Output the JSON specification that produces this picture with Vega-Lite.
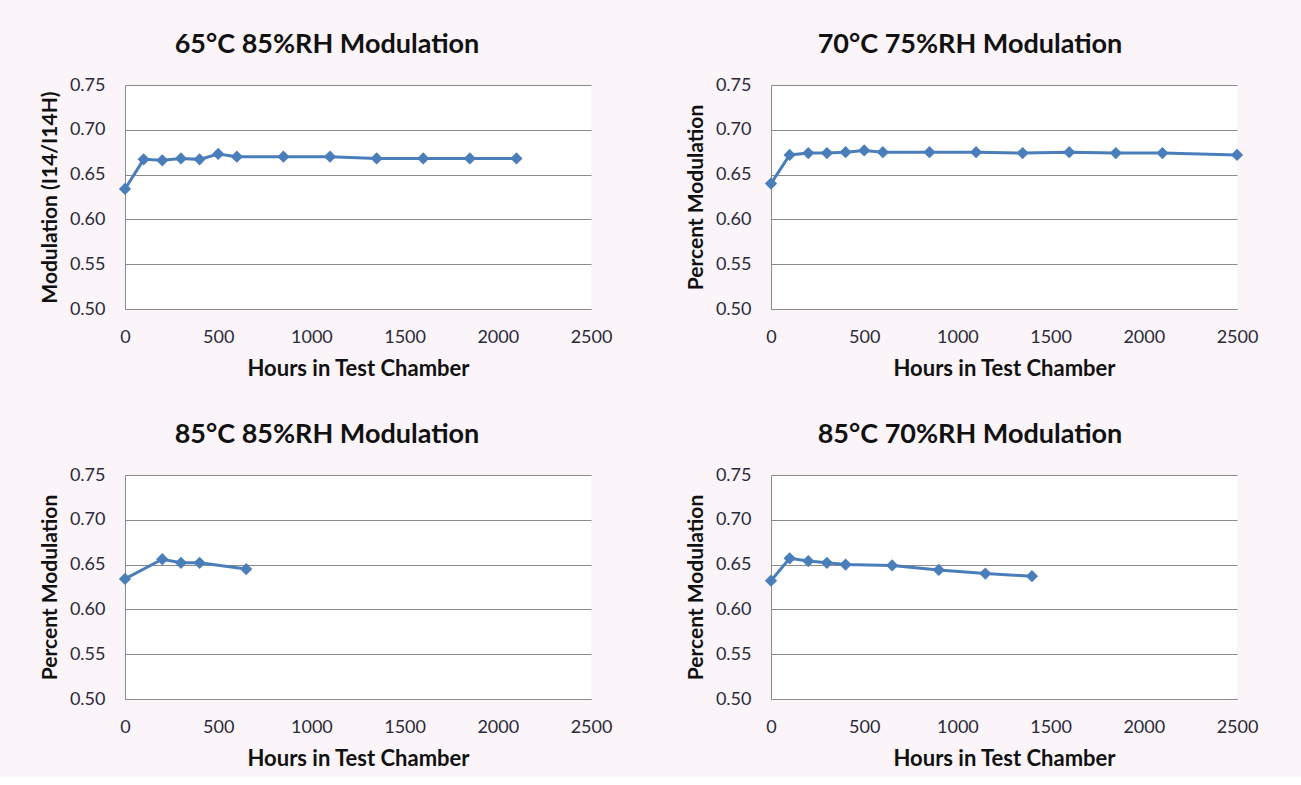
{
  "$schema": "https://vega.github.io/schema/vega-lite/v6.json",
  "background": "#fbf4f9",
  "padding": {"left": 39, "top": 31, "right": 48, "bottom": 8},
  "datasets": {
    "pts": [
      {"panel": "A", "hours": 0, "mod": 0.634},
      {"panel": "A", "hours": 100, "mod": 0.667},
      {"panel": "A", "hours": 200, "mod": 0.666},
      {"panel": "A", "hours": 300, "mod": 0.668},
      {"panel": "A", "hours": 400, "mod": 0.667},
      {"panel": "A", "hours": 500, "mod": 0.673},
      {"panel": "A", "hours": 600, "mod": 0.670},
      {"panel": "A", "hours": 850, "mod": 0.670},
      {"panel": "A", "hours": 1100, "mod": 0.670},
      {"panel": "A", "hours": 1350, "mod": 0.668},
      {"panel": "A", "hours": 1600, "mod": 0.668},
      {"panel": "A", "hours": 1850, "mod": 0.668},
      {"panel": "A", "hours": 2100, "mod": 0.668},
      {"panel": "B", "hours": 0, "mod": 0.640},
      {"panel": "B", "hours": 100, "mod": 0.672},
      {"panel": "B", "hours": 200, "mod": 0.674},
      {"panel": "B", "hours": 300, "mod": 0.674},
      {"panel": "B", "hours": 400, "mod": 0.675},
      {"panel": "B", "hours": 500, "mod": 0.677},
      {"panel": "B", "hours": 600, "mod": 0.675},
      {"panel": "B", "hours": 850, "mod": 0.675},
      {"panel": "B", "hours": 1100, "mod": 0.675},
      {"panel": "B", "hours": 1350, "mod": 0.674},
      {"panel": "B", "hours": 1600, "mod": 0.675},
      {"panel": "B", "hours": 1850, "mod": 0.674},
      {"panel": "B", "hours": 2100, "mod": 0.674},
      {"panel": "B", "hours": 2500, "mod": 0.672},
      {"panel": "C", "hours": 0, "mod": 0.634},
      {"panel": "C", "hours": 200, "mod": 0.656},
      {"panel": "C", "hours": 300, "mod": 0.652},
      {"panel": "C", "hours": 400, "mod": 0.652},
      {"panel": "C", "hours": 650, "mod": 0.645},
      {"panel": "D", "hours": 0, "mod": 0.632},
      {"panel": "D", "hours": 100, "mod": 0.657},
      {"panel": "D", "hours": 200, "mod": 0.654},
      {"panel": "D", "hours": 300, "mod": 0.652},
      {"panel": "D", "hours": 400, "mod": 0.650},
      {"panel": "D", "hours": 650, "mod": 0.649},
      {"panel": "D", "hours": 900, "mod": 0.644},
      {"panel": "D", "hours": 1150, "mod": 0.640},
      {"panel": "D", "hours": 1400, "mod": 0.637}
    ]
  },
  "columns": 2,
  "spacing": {"column": 73, "row": 42},
  "concat": [
    {
      "title": {"text": "65°C 85%RH Modulation", "dx": -31},
      "width": 466, "height": 224,
      "data": {"name": "pts"},
      "transform": [{"filter": "datum.panel === 'A'"}],
      "mark": {"type": "line", "color": "#4A7EBB", "strokeWidth": 3, "point": {"shape": "diamond", "size": 150, "filled": true, "color": "#4A7EBB", "opacity": 1}},
      "encoding": {
        "x": {"field": "hours", "type": "quantitative", "scale": {"domain": [0, 2500], "nice": false}, "axis": {"title": "Hours in Test Chamber", "values": [0, 500, 1000, 1500, 2000, 2500], "format": "d", "grid": false}},
        "y": {"field": "mod", "type": "quantitative", "scale": {"domain": [0.5, 0.75], "nice": false, "zero": false}, "axis": {"title": "Modulation (I14/I14H)", "values": [0.5, 0.55, 0.6, 0.65, 0.7, 0.75], "format": ".2f"}}
      }
    },
    {
      "title": {"text": "70°C 75%RH Modulation", "dx": -34},
      "width": 466, "height": 224,
      "data": {"name": "pts"},
      "transform": [{"filter": "datum.panel === 'B'"}],
      "mark": {"type": "line", "color": "#4A7EBB", "strokeWidth": 3, "point": {"shape": "diamond", "size": 150, "filled": true, "color": "#4A7EBB", "opacity": 1}},
      "encoding": {
        "x": {"field": "hours", "type": "quantitative", "scale": {"domain": [0, 2500], "nice": false}, "axis": {"title": "Hours in Test Chamber", "values": [0, 500, 1000, 1500, 2000, 2500], "format": "d", "grid": false}},
        "y": {"field": "mod", "type": "quantitative", "scale": {"domain": [0.5, 0.75], "nice": false, "zero": false}, "axis": {"title": "Percent Modulation", "values": [0.5, 0.55, 0.6, 0.65, 0.7, 0.75], "format": ".2f"}}
      }
    },
    {
      "title": {"text": "85°C 85%RH Modulation", "dx": -31},
      "width": 466, "height": 224,
      "data": {"name": "pts"},
      "transform": [{"filter": "datum.panel === 'C'"}],
      "mark": {"type": "line", "color": "#4A7EBB", "strokeWidth": 3, "point": {"shape": "diamond", "size": 150, "filled": true, "color": "#4A7EBB", "opacity": 1}},
      "encoding": {
        "x": {"field": "hours", "type": "quantitative", "scale": {"domain": [0, 2500], "nice": false}, "axis": {"title": "Hours in Test Chamber", "values": [0, 500, 1000, 1500, 2000, 2500], "format": "d", "grid": false}},
        "y": {"field": "mod", "type": "quantitative", "scale": {"domain": [0.5, 0.75], "nice": false, "zero": false}, "axis": {"title": "Percent Modulation", "values": [0.5, 0.55, 0.6, 0.65, 0.7, 0.75], "format": ".2f"}}
      }
    },
    {
      "title": {"text": "85°C 70%RH Modulation", "dx": -34},
      "width": 466, "height": 224,
      "data": {"name": "pts"},
      "transform": [{"filter": "datum.panel === 'D'"}],
      "mark": {"type": "line", "color": "#4A7EBB", "strokeWidth": 3, "point": {"shape": "diamond", "size": 150, "filled": true, "color": "#4A7EBB", "opacity": 1}},
      "encoding": {
        "x": {"field": "hours", "type": "quantitative", "scale": {"domain": [0, 2500], "nice": false}, "axis": {"title": "Hours in Test Chamber", "values": [0, 500, 1000, 1500, 2000, 2500], "format": "d", "grid": false}},
        "y": {"field": "mod", "type": "quantitative", "scale": {"domain": [0.5, 0.75], "nice": false, "zero": false}, "axis": {"title": "Percent Modulation", "values": [0.5, 0.55, 0.6, 0.65, 0.7, 0.75], "format": ".2f"}}
      }
    }
  ],
  "config": {
    "font": "Lato",
    "view": {"fill": "white", "stroke": null},
    "title": {"fontSize": 27, "fontWeight": "bold", "color": "#111111", "offset": 17, "anchor": "middle", "font": "Lato"},
    "axis": {
      "ticks": false,
      "domainColor": "#8a8a8a",
      "domainWidth": 1,
      "gridColor": "#8a8a8a",
      "gridWidth": 1,
      "gridOpacity": 1,
      "labelFontSize": 18,
      "labelColor": "#2a2a3a",
      "labelFont": "Lato",
      "titleFont": "Lato",
      "titleFontSize": 21,
      "titleFontWeight": "bold",
      "titleColor": "#111111"
    },
    "axisX": {"labelPadding": 19, "titlePadding": 12, "titleFontSize": 22, "labelFlush": false, "domain": true},
    "axisY": {"labelPadding": 20, "titlePadding": 9, "domain": true}
  }
}
